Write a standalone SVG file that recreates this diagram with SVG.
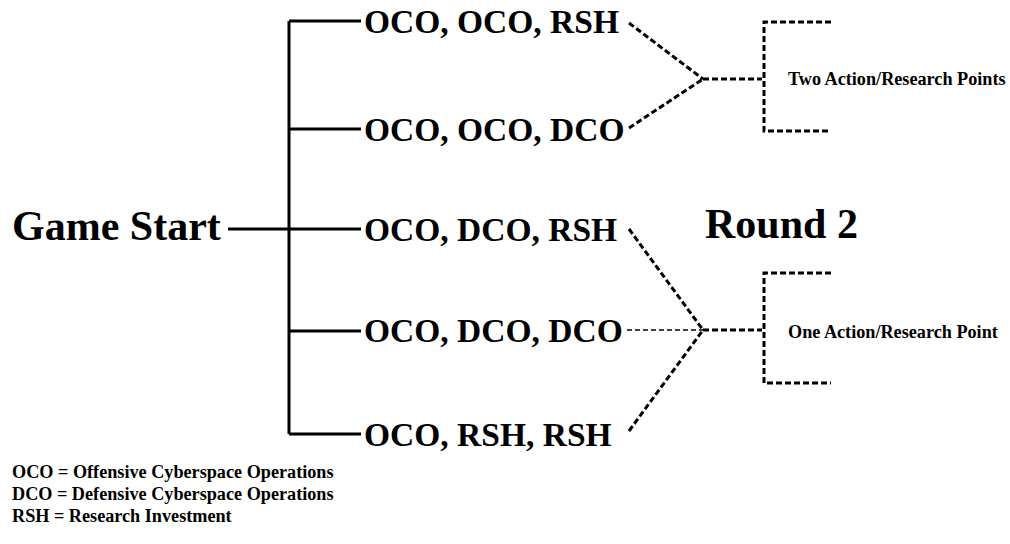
<svg xmlns="http://www.w3.org/2000/svg" width="1010" height="544" viewBox="0 0 1010 544">
<style>
text{font-family:"Liberation Serif","Times New Roman",serif;font-weight:bold;fill:#000}
.opt{font-size:33.5px}
.big{font-size:42px}
.sm{font-size:18.2px}
.leg{font-size:18.2px}
.solid{stroke:#000;stroke-width:3;fill:none}
.dash{stroke:#000;stroke-width:3;stroke-dasharray:6,3;fill:none}
.thin{stroke:#000;stroke-width:1.6;stroke-dasharray:5,3;fill:none}
</style>
<rect width="1010" height="544" fill="#fff"/>
<g id="connectors">
<path class="solid" d="M228,229 H289 M289,21 V434 M289,21 H361 M289,129 H361 M289,229 H361 M289,331 H361 M289,434 H361"/>
<path class="dash" d="M629,23 L703,79 M629,128 L703,79 M703,79 H762"/>
<path class="dash" d="M629,229 L703,330 M629,431 L703,330 M703,330 H762"/>
<path class="thin" d="M627,330 H703"/>
<path class="dash" d="M831,22 H764 V131 H831"/>
<path class="dash" d="M831,273 H764 V383 H831"/>
</g>
<g id="game-start"><text class="big" x="12" y="240">Game Start</text></g>
<g id="opt1"><text class="opt" x="364" y="33">OCO, OCO, RSH</text></g>
<g id="opt2"><text class="opt" x="364" y="141">OCO, OCO, DCO</text></g>
<g id="opt3"><text class="opt" x="364" y="241">OCO, DCO, RSH</text></g>
<g id="opt4"><text class="opt" x="364" y="342">OCO, DCO, DCO</text></g>
<g id="opt5"><text class="opt" x="364" y="446">OCO, RSH, RSH</text></g>
<g id="round2"><text class="big" x="705" y="238">Round 2</text></g>
<g id="two-points"><text class="sm" x="788" y="85">Two Action/Research Points</text></g>
<g id="one-point"><text class="sm" x="788" y="338">One Action/Research Point</text></g>
<g id="legend">
<text class="leg" x="12" y="478">OCO = Offensive Cyberspace Operations</text>
<text class="leg" x="12" y="500">DCO = Defensive Cyberspace Operations</text>
<text class="leg" x="12" y="522">RSH = Research Investment</text>
</g>
</svg>
